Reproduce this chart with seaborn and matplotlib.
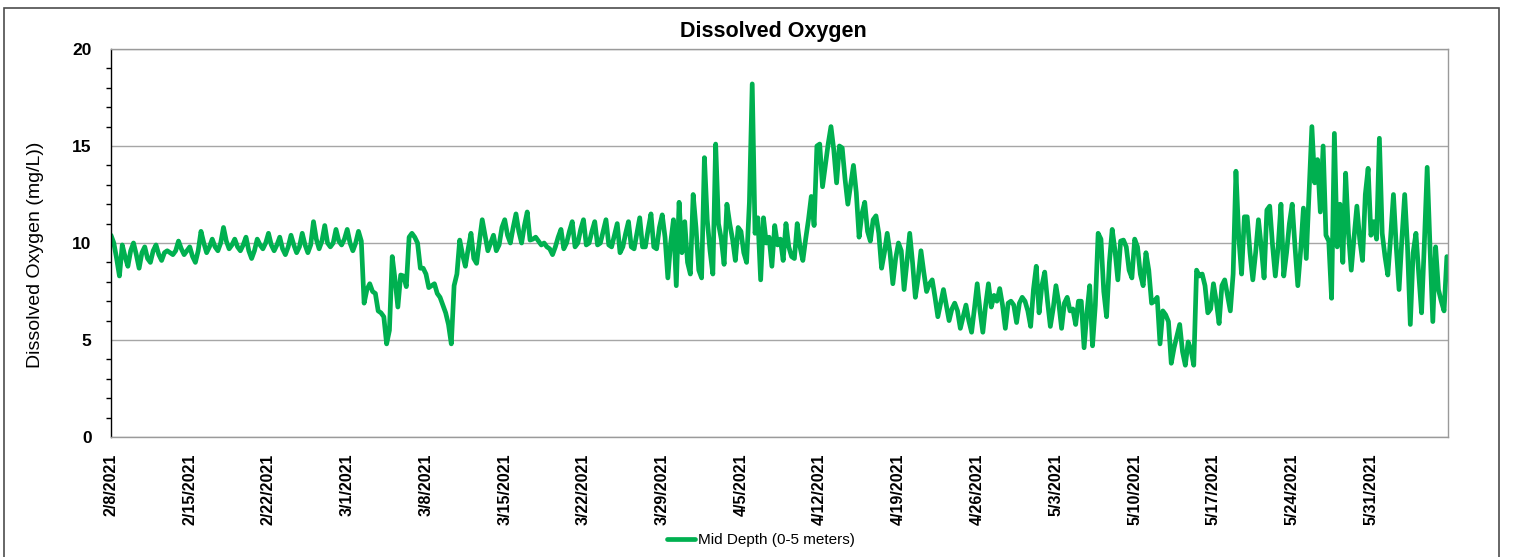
import pandas as pd
import seaborn as sns
import matplotlib.pyplot as plt
import matplotlib.dates as mdates
from matplotlib.patches import Rectangle

# Mid depth dissolved oxygen (mg/L), 4 readings per day (every 6 h), one list per week
wk_0208 = [10.4, 10.0, 9.2, 8.3, 9.9, 9.3, 8.8, 9.6, 10.0, 9.4, 8.7, 9.5, 9.8, 9.2, 9.0, 9.6,
           9.9, 9.4, 9.1, 9.5, 9.6, 9.5, 9.4, 9.6, 10.1, 9.7, 9.4, 9.6]
wk_0215 = [9.8, 9.3, 9.0, 9.6, 10.6, 10.0, 9.5, 9.8, 10.2, 9.8, 9.6, 10.0, 10.8, 10.1, 9.7, 9.9,
           10.2, 9.8, 9.6, 9.9, 10.3, 9.6, 9.2, 9.6, 10.2, 9.9, 9.7, 10.0]
wk_0222 = [10.5, 9.9, 9.6, 9.9, 10.3, 9.7, 9.4, 9.8, 10.4, 9.9, 9.5, 9.8, 10.5, 9.9, 9.5, 9.9,
           11.1, 10.2, 9.7, 10.1, 10.9, 10.0, 9.8, 10.0, 10.7, 10.1, 9.9, 10.2]
wk_0301 = [10.7, 10.0, 9.6, 10.0, 10.6, 10.1, 6.9, 7.6, 7.9, 7.5, 7.4, 6.5, 6.4, 6.2, 4.8, 5.5,
           9.3, 8.1, 6.7, 8.35, 8.3, 7.75, 10.3, 10.5, 10.3, 10.0, 8.7, 8.7]
wk_0308 = [8.4, 7.7, 7.8, 7.9, 7.4, 7.2, 6.8, 6.4, 5.8, 4.8, 7.8, 8.4, 10.15, 9.4, 8.8, 9.7,
           10.5, 9.2, 8.95, 10.1, 11.2, 10.4, 9.6, 10.0, 10.4, 9.6, 9.9, 10.8]
wk_0315 = [11.2, 10.4, 10.0, 10.8, 11.5, 10.6, 10.0, 10.9, 11.6, 10.15, 10.2, 10.3, 10.1, 9.9, 10.0, 9.8,
           9.7, 9.4, 9.8, 10.3, 10.7, 9.7, 10.0, 10.6, 11.1, 9.8, 10.0, 10.7]
wk_0322 = [11.2, 9.9, 10.0, 10.6, 11.1, 9.9, 10.0, 10.6, 11.2, 9.9, 9.8, 10.4, 11.0, 9.5, 9.8, 10.5,
           11.1, 9.8, 9.7, 10.5, 11.3, 9.8, 9.8, 10.7, 11.5, 9.8, 9.7, 10.8]
wk_0329 = [11.45, 10.3, 8.2, 10.0, 11.2, 7.8, 12.1, 9.5, 11.1, 9.0, 8.4, 12.5, 10.8, 8.6, 8.2, 14.4,
           11.2, 9.6, 8.4, 15.1, 11.0, 10.2, 8.9, 12.0, 11.0, 10.2, 9.1, 10.8]
wk_0405 = [10.6, 9.5, 9.0, 12.1, 18.2, 10.5, 11.3, 8.1, 11.3, 10.0, 10.3, 8.8, 10.9, 9.9, 10.2, 9.1,
           11.0, 9.8, 9.3, 9.2, 11.0, 9.8, 9.1, 10.2, 11.2, 12.4, 10.9, 15.0]
wk_0412 = [15.1, 12.9, 14.0, 15.1, 16.0, 14.8, 13.1, 15.0, 14.9, 13.3, 12.0, 13.0, 14.0, 12.6, 10.3, 11.5,
           12.1, 10.6, 10.1, 11.2, 11.4, 10.5, 8.7, 9.5, 10.5, 9.5, 7.9, 9.2]
wk_0419 = [10.0, 9.6, 7.6, 9.0, 10.5, 9.0, 7.2, 8.2, 9.6, 8.5, 7.5, 7.9, 8.1, 7.2, 6.2, 6.9,
           7.6, 6.8, 6.0, 6.6, 6.9, 6.5, 5.6, 6.2, 6.8, 6.0, 5.4, 6.6]
wk_0426 = [7.9, 6.5, 5.4, 6.8, 7.9, 6.7, 7.3, 7.0, 7.65, 6.8, 5.6, 6.9, 7.0, 6.8, 5.9, 6.9,
           7.2, 7.0, 6.5, 5.7, 7.6, 8.8, 6.4, 7.8, 8.5, 7.0, 5.7, 6.6]
wk_0503 = [7.8, 6.9, 5.6, 6.9, 7.2, 6.5, 6.6, 5.8, 7.0, 7.0, 4.6, 6.4, 7.8, 4.7, 6.8, 10.5,
           10.2, 7.5, 6.2, 9.0, 10.7, 9.6, 8.1, 10.1, 10.15, 9.8, 8.6, 8.2]
wk_0510 = [10.2, 9.8, 8.4, 7.8, 9.5, 8.6, 6.9, 7.0, 7.2, 4.8, 6.5, 6.3, 5.95, 3.8, 4.6, 5.2,
           5.8, 4.4, 3.7, 4.9, 4.5, 3.7, 8.6, 8.3, 8.4, 7.8, 6.4, 6.6]
wk_0517 = [7.9, 7.0, 5.85, 7.8, 8.1, 7.3, 6.5, 8.4, 13.7, 10.3, 8.4, 11.35, 11.35, 9.5, 8.1, 9.5,
           11.2, 9.8, 8.2, 11.7, 11.9, 9.9, 8.3, 9.8, 12.0, 8.3, 9.5, 11.0]
wk_0524 = [12.0, 9.8, 7.8, 9.6, 11.8, 9.2, 12.6, 16.0, 13.1, 14.3, 11.6, 15.0, 10.4, 10.1, 7.15, 15.65,
           9.8, 12.0, 9.0, 13.6, 10.5, 8.6, 10.3, 11.9, 10.2, 9.1, 12.5, 13.85]
wk_0531 = [10.4, 11.1, 10.2, 15.4, 10.5, 9.3, 8.35, 10.3, 12.5, 9.8, 7.6, 10.2, 12.5, 9.8, 5.8, 9.5,
           10.5, 8.4, 6.4, 10.0, 13.9, 9.8, 5.95, 9.8, 7.6, 7.0, 6.5, 9.3]

do_mid = (wk_0208 + wk_0215 + wk_0222 + wk_0301 + wk_0308 + wk_0315 + wk_0322 + wk_0329
          + wk_0405 + wk_0412 + wk_0419 + wk_0426 + wk_0503 + wk_0510 + wk_0517 + wk_0524 + wk_0531)
times = pd.date_range("2021-02-08", periods=len(do_mid), freq="6h")
df = pd.DataFrame({"time": times, "do": do_mid})

sns.set_style("white")
plt.rcParams["font.family"] = ["Liberation Sans", "DejaVu Sans"]
plt.rcParams["text.color"] = "black"
plt.rcParams["axes.labelcolor"] = "black"
plt.rcParams["xtick.color"] = "black"
plt.rcParams["ytick.color"] = "black"

fig = plt.figure(figsize=(15.17, 5.57), dpi=100)
ax = fig.add_axes([111 / 1517, 120 / 557, 1337 / 1517, 388 / 557])

sns.lineplot(data=df, x="time", y="do", ax=ax, color="#00B050", linewidth=3.4,
             label="Mid Depth (0-5 meters)", solid_joinstyle="round", solid_capstyle="round")
ax.get_legend().remove()

# axes limits and ticks
ax.set_ylim(0, 20)
ax.set_xlim(pd.Timestamp("2021-02-08"), pd.Timestamp("2021-02-08") + pd.Timedelta(days=118.85))
ax.set_yticks([0, 5, 10, 15, 20])
ax.set_yticks(range(0, 21), minor=True)
ax.xaxis.set_major_locator(mdates.WeekdayLocator(byweekday=mdates.MO))
ax.xaxis.set_minor_locator(mdates.DayLocator())
ax.xaxis.set_major_formatter(mdates.DateFormatter("%-m/%-d/%Y"))

ax.grid(axis="y", which="major", color="#a6a6a6", linewidth=1)
ax.grid(axis="x", visible=False)
ax.set_axisbelow(True)

for side in ["top", "right", "bottom"]:
    ax.spines[side].set_color("#9a9a9a")
    ax.spines[side].set_linewidth(1)
ax.spines["left"].set_color("black")
ax.spines["left"].set_linewidth(1)

ax.tick_params(axis="y", which="major", length=5, width=1, color="black", pad=9,
               labelsize=12.5, labelcolor="black")
ax.tick_params(axis="y", which="minor", length=3.5, width=1, color="black", left=True)
ax.tick_params(axis="x", which="both", length=5, width=1, color="#9a9a9a", direction="out")
ax.tick_params(axis="x", which="major", pad=7, labelsize=11.5, labelrotation=90,
               labelcolor="black")
for lbl in ax.get_yticklabels() + ax.get_xticklabels():
    lbl.set_fontweight("bold")

ax.set_xlabel("")
ax.set_ylabel("Dissolved Oxygen (mg/L))", fontsize=14)
ax.yaxis.set_label_coords(-0.050, 0.47)

fig.text(773 / 1517, 1 - 31 / 557, "Dissolved Oxygen", ha="center", va="center",
         fontsize=15.5, fontweight="bold")

handles, labels = ax.get_legend_handles_labels()
fig.legend(handles, labels, loc="center", bbox_to_anchor=(761 / 1517, 1 - 540 / 557),
           frameon=False, fontsize=11, handlelength=1.8, handletextpad=0.2)

# outer chart border
fig.patches.append(Rectangle((4 / 1517, -0.02), 1495 / 1517, 1 - 8 / 557 + 0.02,
                             transform=fig.transFigure, fill=False,
                             edgecolor="#4d4d4d", linewidth=1.2))

fig.savefig("out.png", dpi=100)
